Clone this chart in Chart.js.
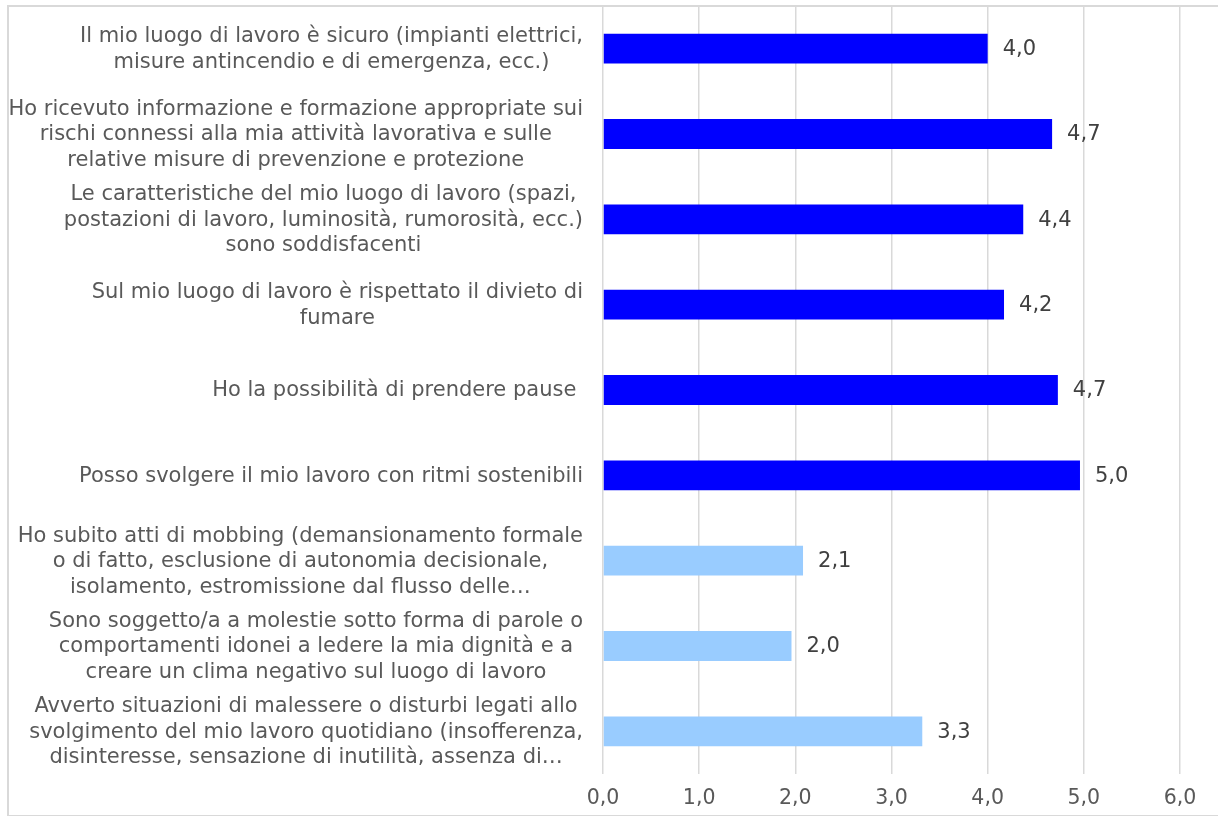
<!DOCTYPE html>
<html>
<head>
<meta charset="utf-8">
<script src="https://cdn.jsdelivr.net/npm/chart.js@4.4.0/dist/chart.umd.min.js"></script>
<style>
  html, body { margin: 0; padding: 0; background: #fff; overflow: hidden; }
  #frame { position: absolute; left: 7px; top: 5px; width: 1240px; height: 808px; border: 2px solid #d9d9d9; }
  #wrap { position: absolute; left: 0; top: 0; width: 1218px; height: 816px; }
</style>
</head>
<body>
<div id="frame"></div>
<div id="wrap"><canvas id="chart" width="1218" height="816"></canvas></div>
<script>
// categories (each entry = lines of the wrapped label)
const categories = [
  ['Il mio luogo di lavoro è sicuro (impianti elettrici,', 'misure antincendio e di emergenza, ecc.)'],
  ['Ho ricevuto informazione e formazione appropriate sui', 'rischi connessi alla mia attività lavorativa e sulle', 'relative misure di prevenzione e protezione'],
  ['Le caratteristiche del mio luogo di lavoro (spazi,', 'postazioni di lavoro, luminosità, rumorosità, ecc.)', 'sono soddisfacenti'],
  ['Sul mio luogo di lavoro è rispettato il divieto di', 'fumare'],
  ['Ho la possibilità di prendere pause '],
  ['Posso svolgere il mio lavoro con ritmi sostenibili'],
  ['Ho subito atti di mobbing (demansionamento formale', 'o di fatto, esclusione di autonomia decisionale,', 'isolamento, estromissione dal flusso delle…'],
  ['Sono soggetto/a a molestie sotto forma di parole o', 'comportamenti idonei a ledere la mia dignità e a', 'creare un clima negativo sul luogo di lavoro'],
  ['Avverto situazioni di malessere o disturbi legati allo', 'svolgimento del mio lavoro quotidiano (insofferenza,', 'disinteresse, sensazione di inutilità, assenza di…'],
];
const scores = [4.0, 4.67, 4.37, 4.17, 4.73, 4.96, 2.08, 1.96, 3.32];
const barColors = ['#0000FF', '#0000FF', '#0000FF', '#0000FF', '#0000FF', '#0000FF', '#99CCFF', '#99CCFF', '#99CCFF'];
const xTicks = [0, 1, 2, 3, 4, 5, 6];

const FONT = '"DejaVu Sans", Verdana, sans-serif';
const SIZE = 21;
const TEXT = '#595959';
const fmtIt = v => v.toFixed(1).replace('.', ',');

// category labels: each block right aligned to the axis, lines centered inside the block
const catLabels = {
  id: 'catLabels',
  afterDraw(chart) {
    const ctx = chart.ctx, y = chart.scales.y;
    const right = chart.chartArea.left - 20, lh = 25.5;
    ctx.save();
    ctx.font = `${SIZE}px ${FONT}`;
    ctx.fillStyle = TEXT;
    ctx.textAlign = 'center';
    ctx.textBaseline = 'middle';
    chart.data.labels.forEach((lines, i) => {
      const w = Math.max(...lines.map(l => ctx.measureText(l).width));
      const cx = right - w / 2;
      const cy = y.getPixelForValue(i) + 1;
      lines.forEach((l, k) => ctx.fillText(l, cx, cy + (k - (lines.length - 1) / 2) * lh));
    });
    ctx.restore();
  }
};

// value labels at the end of each bar
const valueLabels = {
  id: 'valueLabels',
  afterDatasetsDraw(chart) {
    const ctx = chart.ctx;
    const meta = chart.getDatasetMeta(0);
    ctx.save();
    ctx.font = `${SIZE}px ${FONT}`;
    ctx.fillStyle = '#404040';
    ctx.textAlign = 'left';
    ctx.textBaseline = 'middle';
    meta.data.forEach((bar, i) => {
      ctx.fillText(fmtIt(chart.data.datasets[0].data[i]), bar.x + 15, bar.y + 1);
    });
    ctx.restore();
  }
};

new Chart(document.getElementById('chart'), {
  type: 'bar',
  data: {
    labels: categories,
    datasets: [{
      data: scores,
      backgroundColor: barColors,
      barPercentage: 0.35,
      categoryPercentage: 1,
    }],
  },
  options: {
    indexAxis: 'y',
    responsive: false,
    animation: false,
    layout: { padding: { top: 6, right: 38, bottom: 0, left: 0 } },
    plugins: { legend: { display: false }, tooltip: { enabled: false } },
    scales: {
      x: {
        min: 0, max: 6,
        afterBuildTicks: s => { s.ticks = xTicks.map(v => ({ value: v })); },
        grid: { color: '#d9d9d9', lineWidth: 1.5, drawTicks: false },
        border: { display: false },
        ticks: { color: TEXT, font: { family: FONT, size: 20.5 }, padding: 12, callback: v => fmtIt(v) },
        afterFit: s => { s.height = 42; },
      },
      y: {
        grid: { display: false },
        border: { display: false },
        ticks: { display: false },
        afterFit: s => { s.width = 603; },
      },
    },
  },
  plugins: [catLabels, valueLabels],
});
</script>
</body>
</html>
